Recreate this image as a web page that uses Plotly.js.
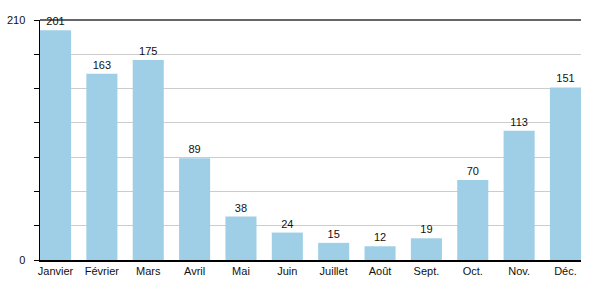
<!DOCTYPE html>
<html>
<head>
<meta charset="utf-8">
<script src="https://cdn.plot.ly/plotly-3.0.1.min.js"></script>
<style>html,body{margin:0;padding:0;background:#fff;}#chart{width:600px;height:300px;}</style>
</head>
<body>
<div id="chart"></div>
<script>
const months = ["Janvier","Février","Mars","Avril","Mai","Juin","Juillet","Août","Sept.","Oct.","Nov.","Déc."];
const values = [201,163,175,89,38,24,15,12,19,70,113,151];
const tickVals = [0,30,60,90,120,150,180,210];
const tickText = ["0","","","","","","","210"];

const trace = {
  type: "bar",
  x: months,
  y: values,
  text: values.map(String),
  textposition: "outside",
  cliponaxis: false,
  textfont: {family: "Liberation Sans, Arial, sans-serif", size: 11, color: "#111"},
  marker: {color: "#9ecfe6", line: {width: 0}},
  hoverinfo: "none"
};

const layout = {
  width: 600, height: 300,
  margin: {l: 40, r: 19, t: 20, b: 40},
  paper_bgcolor: "#fff", plot_bgcolor: "#fff",
  bargap: 0.33,
  showlegend: false,
  font: {family: "Liberation Sans, Arial, sans-serif", size: 11, color: "#111"},
  xaxis: {
    type: "category", range: [-0.335, 11.335],
    showline: true, linecolor: "#000", linewidth: 1.5,
    ticks: "", showgrid: false, tickfont: {size: 11}
  },
  yaxis: {
    range: [0, 210], tickmode: "array", tickvals: tickVals, ticktext: tickText,
    showgrid: true, gridcolor: "#cccccc", gridwidth: 1,
    showline: true, linecolor: "#000", linewidth: 1.5,
    ticks: "outside", ticklen: 5, tickcolor: "#000", tickwidth: 1,
    tickfont: {size: 11}, zeroline: false, ticklabelstandoff: 6
  },
  shapes: [{type: "line", xref: "paper", yref: "paper", x0: 0, x1: 1, y0: 1, y1: 1,
            line: {color: "#333", width: 1.5}, layer: "below"}]
};

Plotly.newPlot("chart", [trace], layout, {displayModeBar: false, staticPlot: true});
</script>
</body>
</html>
